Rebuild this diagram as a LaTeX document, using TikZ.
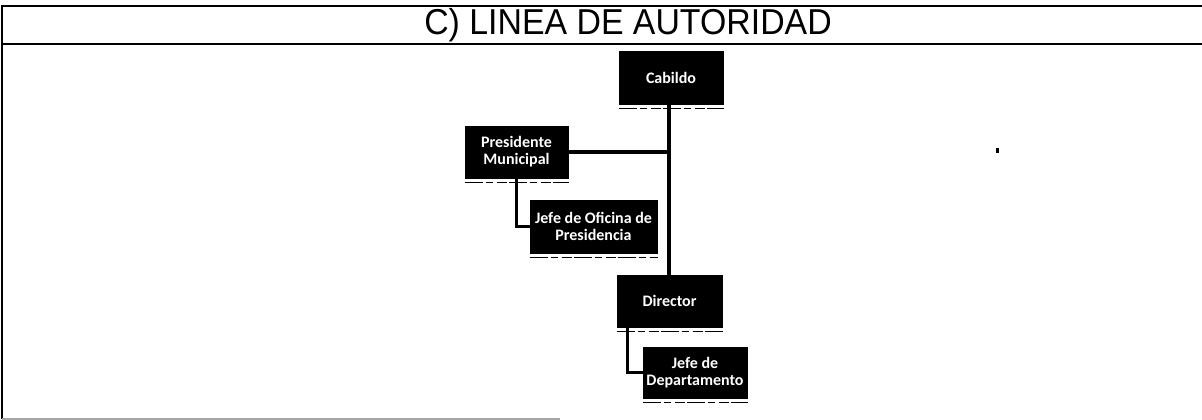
\documentclass[tikz,border=0pt]{standalone}
\usepackage{fontspec}
\setmainfont{Liberation Sans}
\newfontfamily\boxfont{Carlito}
\begin{document}
\begin{tikzpicture}[x=1pt,y=-1pt,
  orgbox/.style={draw=black,fill=black,text=white,line width=1pt,inner sep=1pt,
    align=center,font=\boxfont\bfseries\fontsize{16}{17}\selectfont},
  link/.style={line width=3.5pt,black},
  frame/.style={line width=1.6pt,black},
  shadowline/.style={line width=0.8pt,black,dash pattern=on 18pt off 3pt on 7pt off 4pt on 10pt off 2pt}]
\useasboundingbox (0,0) rectangle (1202,420);
\fill[white] (0,0) rectangle (1202,420);
% frame
\draw[frame] (1202,6) -- (2,6) -- (2,419);
\draw[frame] (2,44) -- (1202,44);
\draw[line width=1.4pt,black!35] (2,419) -- (560,419);
% title
\node[font=\fontsize{36}{38}\selectfont,inner sep=0pt,xscale=0.94] (title) at (628,25) {C) LINEA DE AUTORIDAD};
% boxes
\node[orgbox,minimum width=104pt,minimum height=52pt] (cab) at (671,78) {Cabildo};
\node[orgbox,minimum width=103pt,minimum height=52pt] (pres) at (516.5,152) {Presidente\\Municipal};
\node[orgbox,minimum width=127pt,minimum height=53pt] (jof) at (593.5,226.5) {Jefe de Oficina de\\Presidencia};
\node[orgbox,minimum width=105pt,minimum height=52pt] (dir) at (669.5,301) {Director};
\node[orgbox,minimum width=104pt,minimum height=51pt] (jdep) at (695,372.5) {Jefe de\\Departamento};
% faint lines under boxes
\foreach \b in {cab,pres,jof,dir,jdep}{
  \draw[shadowline] ([yshift=-3.5pt]\b.south west) -- ([yshift=-3.5pt]\b.south east);
}
% connectors
\coordinate (tr) at (669,0);
\draw[link] (cab.south -| tr) -- (dir.north -| tr);
\draw[link] (pres.east) -- (pres.east -| tr);
\draw[link] (pres.south) |- (jof.west);
\draw[link] ([xshift=11pt]dir.south west) |- (jdep.west);
% small scan mark
\fill[black] (996,148) rectangle (999,153);
\end{tikzpicture}
\end{document}
